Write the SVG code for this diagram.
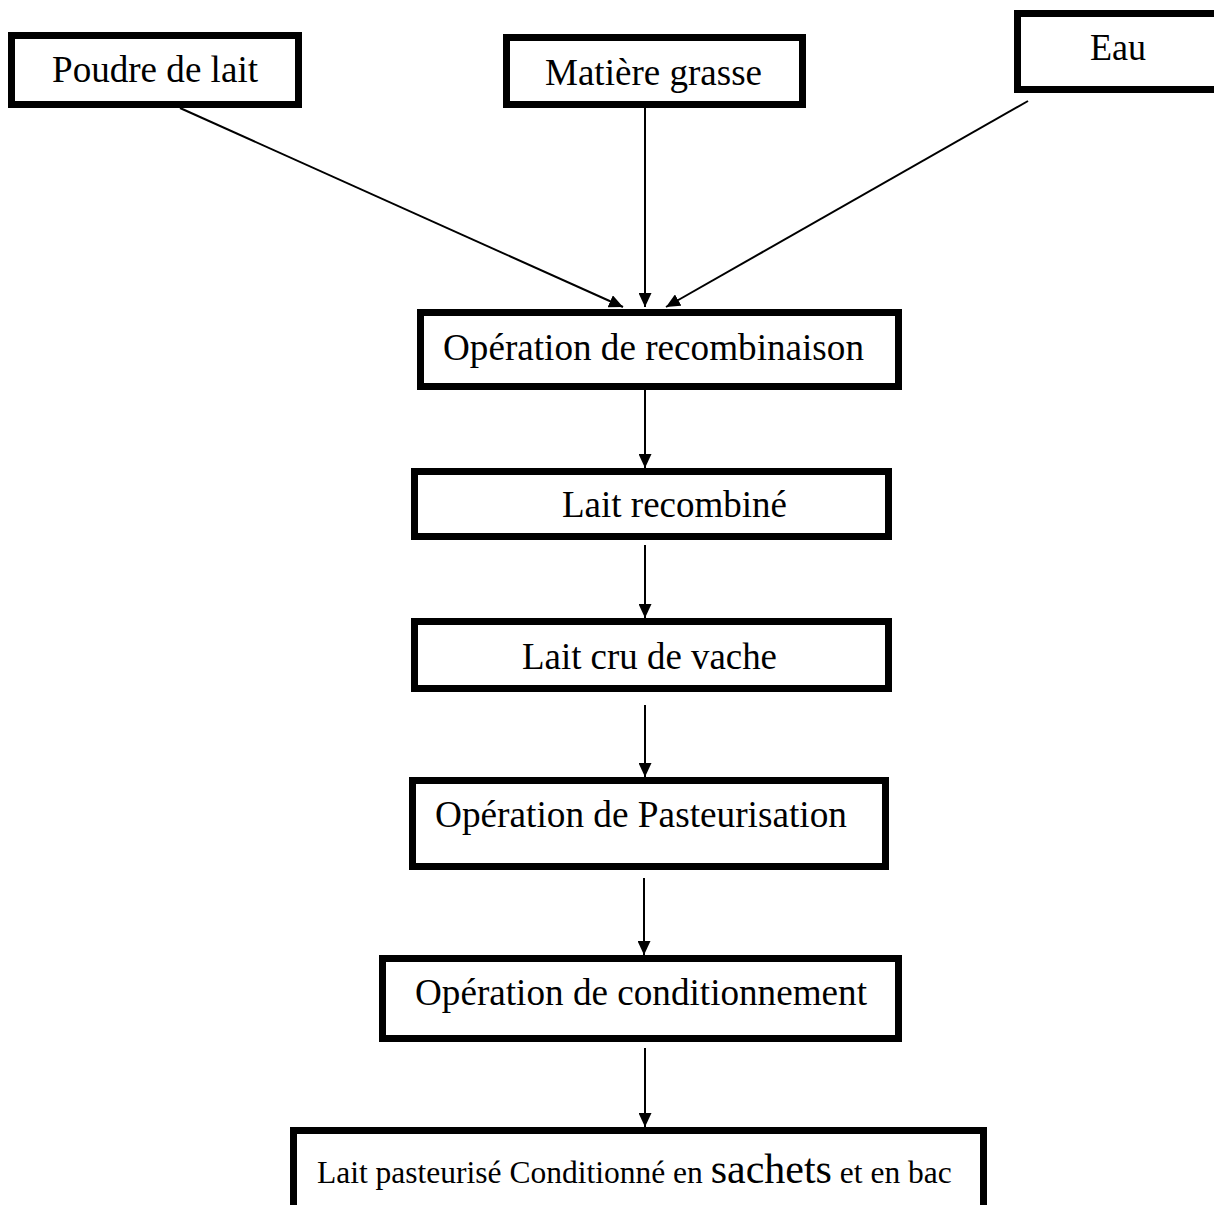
<svg xmlns="http://www.w3.org/2000/svg" width="1214" height="1205" viewBox="0 0 1214 1205">
  <style>
    .box { fill: #ffffff; stroke: #000000; stroke-width: 7; }
    .lbl { font-family: "Liberation Serif", "DejaVu Serif", serif; font-size: 37px; fill: #000000; }
    .small { font-family: "Liberation Serif", "DejaVu Serif", serif; font-size: 31.5px; fill: #000000; }
    .link { stroke: #000000; stroke-width: 2; fill: none; marker-end: url(#arrow); }
  </style>
  <defs>
    <marker id="arrow" markerUnits="userSpaceOnUse" markerWidth="15" markerHeight="13" refX="14" refY="6.5" orient="auto">
      <path d="M0,0 L14,6.5 L0,13 z" fill="#000000"/>
    </marker>
  </defs>
  <rect x="0" y="0" width="1214" height="1205" fill="#ffffff"/>

  <!-- connectors -->
  <g id="connectors">
    <line class="link" x1="180" y1="108" x2="623" y2="307"/>
    <line class="link" x1="645" y1="108" x2="645" y2="307"/>
    <line class="link" x1="1028" y1="101" x2="666" y2="307"/>
    <line class="link" x1="645" y1="390" x2="645" y2="468"/>
    <line class="link" x1="645" y1="545" x2="645" y2="618"/>
    <line class="link" x1="645" y1="705" x2="645" y2="777"/>
    <line class="link" x1="644" y1="878" x2="644" y2="955"/>
    <line class="link" x1="645" y1="1048" x2="645" y2="1127"/>
  </g>

  <!-- ingredients -->
  <g id="poudre">
    <rect class="box" x="11.5" y="35.5" width="287" height="69"/>
    <text class="lbl" x="52" y="82" textLength="206" lengthAdjust="spacingAndGlyphs">Poudre de lait</text>
  </g>
  <g id="matiere">
    <rect class="box" x="506.5" y="37.5" width="296" height="67"/>
    <text class="lbl" x="545" y="85" textLength="217" lengthAdjust="spacingAndGlyphs">Matière grasse</text>
  </g>
  <g id="eau">
    <rect class="box" x="1017.5" y="13.5" width="250" height="76"/>
    <text class="lbl" x="1090" y="60" textLength="56" lengthAdjust="spacingAndGlyphs">Eau</text>
  </g>

  <!-- process steps -->
  <g id="recombinaison">
    <rect class="box" x="420.5" y="312.5" width="478" height="74"/>
    <text class="lbl" x="443" y="360" textLength="421" lengthAdjust="spacingAndGlyphs">Opération de recombinaison</text>
  </g>
  <g id="lait-recombine">
    <rect class="box" x="414.5" y="471.5" width="474" height="65"/>
    <text class="lbl" x="562" y="517" textLength="225" lengthAdjust="spacingAndGlyphs">Lait recombiné</text>
  </g>
  <g id="lait-cru">
    <rect class="box" x="414.5" y="621.5" width="474" height="67"/>
    <text class="lbl" x="522" y="669" textLength="255" lengthAdjust="spacingAndGlyphs">Lait cru de vache</text>
  </g>
  <g id="pasteurisation">
    <rect class="box" x="412.5" y="780.5" width="473" height="86"/>
    <text class="lbl" x="435" y="827" textLength="412" lengthAdjust="spacingAndGlyphs">Opération de Pasteurisation</text>
  </g>
  <g id="conditionnement">
    <rect class="box" x="382.5" y="958.5" width="516" height="80"/>
    <text class="lbl" x="415" y="1005" textLength="452" lengthAdjust="spacingAndGlyphs">Opération de conditionnement</text>
  </g>
  <g id="produit">
    <rect class="box" x="293.5" y="1130.5" width="690" height="120"/>
    <text class="small" x="317" y="1183">Lait pasteurisé Conditionné en <tspan font-size="42px">sachets</tspan> et en bac</text>
  </g>
</svg>
